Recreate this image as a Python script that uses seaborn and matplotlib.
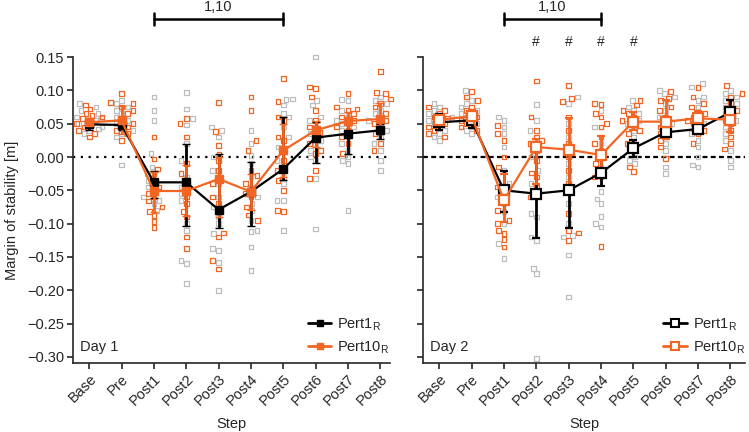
import numpy as np
import pandas as pd
import matplotlib
matplotlib.use("Agg")
import matplotlib.pyplot as plt
import seaborn as sns
from matplotlib.lines import Line2D
import matplotlib.transforms as mtrans

sns.set_style("ticks")
plt.rcParams['font.family'] = ['Liberation Sans', 'DejaVu Sans']

steps = ["Base", "Pre", "Post1", "Post2", "Post3", "Post4", "Post5", "Post6", "Post7", "Post8"]

# ---- Day 1 means and error bar ends ----
d1_p1_mean = [0.049, 0.048, -0.038, -0.038, -0.079, -0.052, -0.018, 0.029, 0.035, 0.040]
d1_p1_lo   = [0.041, 0.040, -0.061, -0.104, -0.107, -0.104, -0.035, -0.009, 0.005, 0.027]
d1_p1_hi   = [0.057, 0.056, -0.021, 0.020, 0.004, -0.008, 0.060, 0.053, 0.050, 0.050]
d1_p10_mean = [0.052, 0.055, -0.051, -0.051, -0.033, -0.052, 0.010, 0.040, 0.054, 0.057]
d1_p10_lo   = [0.046, 0.035, -0.082, -0.088, -0.090, -0.080, -0.030, 0.015, 0.040, 0.035]
d1_p10_hi   = [0.058, 0.076, -0.022, -0.012, 0.000, -0.025, 0.050, 0.054, 0.068, 0.081]

# ---- Day 2 means and error bar ends ----
d2_p1_mean = [0.052, 0.055, -0.050, -0.055, -0.050, -0.024, 0.013, 0.037, 0.042, 0.067]
d2_p1_lo   = [0.040, 0.043, -0.083, -0.122, -0.106, -0.044, 0.000, 0.028, 0.035, 0.055]
d2_p1_hi   = [0.064, 0.067, -0.021, 0.012, 0.006, -0.005, 0.026, 0.047, 0.050, 0.085]
d2_p10_mean = [0.056, 0.061, -0.065, 0.015, 0.011, 0.003, 0.053, 0.053, 0.058, 0.056]
d2_p10_lo   = [0.050, 0.052, -0.098, -0.040, -0.047, -0.020, 0.040, 0.027, 0.045, 0.037]
d2_p10_hi   = [0.062, 0.070, -0.025, 0.027, 0.059, 0.032, 0.068, 0.085, 0.069, 0.075]

# ---- Individual subject values ----
d1_p1_pts = [
    [0.08, 0.075, 0.07, 0.065, 0.06, 0.058, 0.055, 0.05, 0.048, 0.045, 0.042, 0.04, 0.035],
    [0.085, 0.08, 0.075, 0.07, 0.065, 0.06, 0.055, 0.05, 0.045, 0.04, 0.035, 0.03, -0.012],
    [0.09, 0.07, 0.055, 0.005, -0.015, -0.025, -0.035, -0.04, -0.045, -0.05, -0.06, -0.065, -0.07, -0.08],
    [0.097, 0.072, 0.058, 0.048, 0.02, -0.005, -0.03, -0.045, -0.055, -0.065, -0.1, -0.11, -0.155, -0.16, -0.19],
    [0.045, 0.04, 0.03, 0.0, -0.02, -0.04, -0.06, -0.075, -0.09, -0.1, -0.115, -0.137, -0.14, -0.158, -0.2],
    [0.04, 0.02, 0.002, -0.01, -0.03, -0.045, -0.06, -0.07, -0.08, -0.095, -0.11, -0.112, -0.135, -0.17],
    [0.087, 0.086, 0.078, 0.065, 0.06, 0.045, 0.03, 0.015, -0.005, -0.02, -0.03, -0.04, -0.065, -0.065, -0.11],
    [0.15, 0.085, 0.078, 0.06, 0.055, 0.045, 0.035, 0.025, 0.02, 0.01, 0.0, -0.005, -0.032, -0.108],
    [0.086, 0.085, 0.07, 0.06, 0.055, 0.05, 0.045, 0.04, 0.03, 0.02, 0.01, 0.0, -0.005, -0.01, -0.08],
    [0.09, 0.085, 0.08, 0.07, 0.065, 0.06, 0.055, 0.05, 0.04, 0.03, 0.02, 0.01, -0.005, -0.02],
]
d1_p10_pts = [
    [0.078, 0.072, 0.065, 0.06, 0.058, 0.055, 0.05, 0.045, 0.04, 0.035, 0.03, 0.062],
    [0.095, 0.082, 0.08, 0.075, 0.07, 0.065, 0.055, 0.05, 0.045, 0.04, 0.035, 0.025],
    [0.03, -0.003, -0.018, -0.025, -0.045, -0.055, -0.06, -0.066, -0.075, -0.082, -0.088, -0.097, -0.106],
    [0.058, 0.05, 0.03, -0.01, -0.025, -0.04, -0.05, -0.06, -0.07, -0.082, -0.09, -0.12, -0.137],
    [0.082, 0.038, 0.017, 0.004, -0.005, -0.02, -0.04, -0.06, -0.07, -0.08, -0.114, -0.12, -0.155, -0.168],
    [0.09, 0.07, 0.025, 0.01, -0.02, -0.028, -0.04, -0.055, -0.06, -0.075, -0.087, -0.095],
    [0.118, 0.083, 0.06, 0.055, 0.03, 0.025, 0.01, -0.005, -0.02, -0.035, -0.05, -0.08, -0.082],
    [0.105, 0.103, 0.09, 0.07, 0.055, 0.045, 0.037, 0.03, 0.02, 0.01, 0.005, -0.02, -0.032],
    [0.095, 0.075, 0.072, 0.07, 0.065, 0.06, 0.055, 0.05, 0.045, 0.04, 0.03, 0.02, 0.005],
    [0.128, 0.097, 0.095, 0.087, 0.08, 0.075, 0.065, 0.055, 0.05, 0.04, 0.035, 0.02, 0.01],
]
d2_p1_pts = [
    [0.08, 0.075, 0.07, 0.065, 0.06, 0.055, 0.05, 0.045, 0.04, 0.035, 0.03, 0.025],
    [0.1, 0.085, 0.08, 0.075, 0.07, 0.065, 0.06, 0.055, 0.05, 0.045, 0.04, 0.035],
    [0.06, 0.055, 0.045, 0.035, 0.015, -0.02, -0.04, -0.045, -0.06, -0.07, -0.082, -0.1, -0.13, -0.152],
    [0.079, 0.055, 0.04, 0.02, 0.0, -0.02, -0.04, -0.06, -0.085, -0.09, -0.12, -0.125, -0.167, -0.175, -0.302],
    [0.09, 0.08, 0.05, 0.03, 0.01, -0.01, -0.03, -0.05, -0.07, -0.1, -0.118, -0.12, -0.147, -0.21],
    [0.07, 0.045, 0.02, 0.0, -0.015, -0.03, -0.052, -0.063, -0.07, -0.089, -0.1, -0.105],
    [0.085, 0.075, 0.07, 0.065, 0.055, 0.05, 0.04, 0.03, 0.02, 0.01, 0.0, -0.005, -0.01],
    [0.1, 0.095, 0.09, 0.08, 0.07, 0.06, 0.05, 0.04, 0.03, 0.02, 0.01, -0.015, -0.025],
    [0.11, 0.105, 0.09, 0.085, 0.075, 0.065, 0.055, 0.05, 0.045, 0.035, 0.025, 0.015, 0.0, -0.012, -0.015],
    [0.1, 0.095, 0.09, 0.085, 0.08, 0.075, 0.07, 0.065, 0.055, 0.045, 0.035, 0.025, 0.01, -0.005, -0.015],
]
d2_p10_pts = [
    [0.075, 0.07, 0.065, 0.06, 0.058, 0.055, 0.05, 0.045, 0.04, 0.035, 0.03],
    [0.098, 0.09, 0.085, 0.075, 0.07, 0.065, 0.06, 0.055, 0.05, 0.045, 0.04],
    [0.047, 0.035, 0.025, 0.0, -0.015, -0.045, -0.06, -0.08, -0.095, -0.1, -0.11, -0.115, -0.124, -0.135],
    [0.114, 0.06, 0.04, 0.03, 0.025, 0.02, 0.01, -0.005, -0.024, -0.03, -0.045, -0.06],
    [0.107, 0.088, 0.083, 0.06, 0.04, 0.02, 0.0, -0.02, -0.04, -0.085, -0.11, -0.114, -0.125],
    [0.08, 0.079, 0.065, 0.06, 0.05, 0.045, 0.03, 0.02, 0.01, -0.01, -0.03, -0.134],
    [0.085, 0.078, 0.07, 0.065, 0.06, 0.055, 0.05, 0.04, 0.035, 0.02, -0.015, -0.022],
    [0.098, 0.088, 0.085, 0.075, 0.07, 0.06, 0.05, 0.045, 0.035, 0.025, 0.015, -0.002],
    [0.104, 0.09, 0.08, 0.075, 0.065, 0.06, 0.055, 0.05, 0.04, 0.035, 0.02],
    [0.107, 0.095, 0.09, 0.08, 0.07, 0.06, 0.055, 0.05, 0.04, 0.03, 0.02, 0.012],
]

sig_bracket_d1 = ("Post1", "Post5")
sig_bracket_d2 = ("Post1", "Post4")
hash_steps_d2 = ["Post2", "Post3", "Post4", "Post5"]
bracket_label = "1,10"

GREY = "#BDBDBD"
ORANGE = "#F26522"
BLACK = "#000000"

fig = plt.figure(figsize=(7.49, 4.32), dpi=100)
W, H = 749, 432
ax1 = fig.add_axes([73 / W, 1 - 363 / H, 317 / W, 306 / H])
ax2 = fig.add_axes([423 / W, 1 - 363 / H, 322 / W, 306 / H])


def make_df(p1, p10):
    rows = []
    for s, vals in zip(steps, p1):
        for v in vals:
            rows.append((s, v, "Pert1"))
    for s, vals in zip(steps, p10):
        for v in vals:
            rows.append((s, v, "Pert10"))
    return pd.DataFrame(rows, columns=["step", "val", "cond"])


def draw_panel(ax, p1_pts, p10_pts, p1m, p1lo, p1hi, p10m, p10lo, p10hi, hollow, day_text, dash):
    df = make_df(p1_pts, p10_pts)
    sns.swarmplot(data=df, x="step", y="val", hue="cond", order=steps,
                  hue_order=["Pert1", "Pert10"], palette={"Pert1": GREY, "Pert10": ORANGE},
                  marker="s", size=3.4, linewidth=0, dodge=False, legend=False, ax=ax,
                  warn_thresh=1.0)
    for coll in ax.collections:
        fc = coll.get_facecolors()
        coll.set_edgecolors(fc)
        coll.set_facecolors("none")
        coll.set_linewidths(0.9)
        coll.set_clip_on(False)
    ax.axhline(0, color="black", lw=1.6, dashes=dash, zorder=1)
    x = np.arange(len(steps))
    for m, lo, hi, col in [(p1m, p1lo, p1hi, BLACK), (p10m, p10lo, p10hi, ORANGE)]:
        m = np.array(m); lo = np.array(lo); hi = np.array(hi)
        if hollow:
            mk = dict(marker="s", ms=7.5, mfc="white", mec=col, mew=1.6)
        else:
            mk = dict(marker="s", ms=5.5, mfc=col, mec=col, mew=1)
        ax.errorbar(x, m, yerr=[m - lo, hi - m], color=col, lw=1.6,
                    elinewidth=2.0, capsize=3, capthick=2.0, zorder=5, **mk)
    ax.set_ylim(-0.309, 0.15)
    ax.set_yticks(np.arange(-0.30, 0.151, 0.05))
    ax.set_xticks(x)
    ax.set_xticklabels(steps, rotation=45, ha="right", rotation_mode="anchor")
    ax.set_xlabel("Step", fontsize=10.5, labelpad=6)
    ax.text(0.022, 0.052, day_text, transform=ax.transAxes, fontsize=10.5, va="center", ha="left")
    for s in ["top", "right"]:
        ax.spines[s].set_visible(False)
    for s in ["left", "bottom"]:
        ax.spines[s].set_linewidth(1.2)
    ax.tick_params(axis="both", length=4.5, width=1.2, labelsize=10.5, pad=2)
    handles = [Line2D([], [], color=BLACK, lw=2, **(dict(marker="s", ms=6, mfc="white", mec=BLACK, mew=1.5) if hollow else dict(marker="s", ms=5))),
               Line2D([], [], color=ORANGE, lw=2, **(dict(marker="s", ms=6, mfc="white", mec=ORANGE, mew=1.5) if hollow else dict(marker="s", ms=5)))]
    ax.legend(handles, ["Pert1$_\\mathregular{R}$", "Pert10$_\\mathregular{R}$"], loc="lower right",
              bbox_to_anchor=(1.04, -0.02), frameon=False, fontsize=10.5, handlelength=1.6,
              handletextpad=0.4, labelspacing=0.45)


draw_panel(ax1, d1_p1_pts, d1_p10_pts, d1_p1_mean, d1_p1_lo, d1_p1_hi,
           d1_p10_mean, d1_p10_lo, d1_p10_hi, False, "Day 1", (1, 2.5))
draw_panel(ax2, d2_p1_pts, d2_p10_pts, d2_p1_mean, d2_p1_lo, d2_p1_hi,
           d2_p10_mean, d2_p10_lo, d2_p10_hi, True, "Day 2", (2.2, 1.5))

ax1.set_xlim(-0.5, 9.3)
ax2.set_xlim(-0.5, 9.45)
ax1.set_ylabel("Margin of stability [m]", fontsize=10.5, labelpad=6)
ax2.set_ylabel("")
ax2.set_yticklabels([])


def bracket(ax, a, b, label):
    tr = mtrans.blended_transform_factory(ax.transData, ax.transAxes)
    xa, xb = steps.index(a), steps.index(b)
    yb = 1.124
    ax.plot([xa, xb], [yb, yb], color="black", lw=1.8, transform=tr, clip_on=False)
    for xx in (xa, xb):
        ax.plot([xx, xx], [yb - 0.02, yb + 0.02], color="black", lw=1.8, transform=tr, clip_on=False)
    ax.text((xa + xb) / 2, 1.163, label, transform=tr, ha="center", va="center", fontsize=10.5)


bracket(ax1, *sig_bracket_d1, bracket_label)
bracket(ax2, *sig_bracket_d2, bracket_label)
tr2 = mtrans.blended_transform_factory(ax2.transData, ax2.transAxes)
for s in hash_steps_d2:
    ax2.text(steps.index(s), 1.049, "#", transform=tr2, ha="center", va="center", fontsize=10)

fig.savefig("out.png", dpi=100)
